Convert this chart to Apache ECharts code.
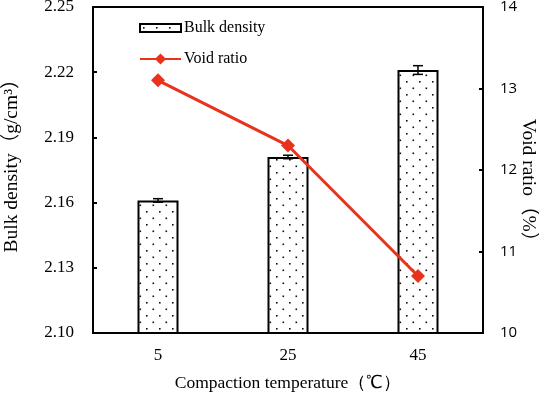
<!DOCTYPE html>
<html>
<head>
<meta charset="utf-8">
<script src="https://cdn.jsdelivr.net/npm/echarts@6/dist/echarts.min.js"></script>
<style>
  html, body { margin: 0; padding: 0; background: #fff; }
  #chart { width: 539px; height: 395px; }
</style>
</head>
<body>
<div id="chart"></div>
<script>
// data
const temps = ['5', '25', '45']
const bulkDensity = [2.161, 2.181, 2.221]
const bulkError = [0.0008, 0.0008, 0.002]
const voidRatio = [13.1, 12.3, 10.7]

const serif = 'Liberation Serif'
const serifCjk = '"Liberation Serif", "Noto Sans CJK SC"'

// dotted fill for the bars
const makeDots = () => {
  const c = document.createElement('canvas')
  c.width = 13
  c.height = 13
  const ctx = c.getContext('2d')
  ctx.fillStyle = '#fff'
  ctx.fillRect(0, 0, 13, 13)
  ctx.fillStyle = '#111'
  ctx.fillRect(3, 3, 1.6, 1.6)
  ctx.fillRect(9.5, 9.5, 1.6, 1.6)
  return c
}
const dots = makeDots()

const chart = echarts.init(document.getElementById('chart'))

const legendText = { fontFamily: serif, fontSize: 16, color: '#000', padding: [0, 0, 0, -2] }

const option = {
  animation: false,
  grid: {
    left: 93,
    right: 56,
    top: 7,
    bottom: 62,
    containLabel: false,
    outerBoundsMode: 'none',
    show: true,
    borderColor: '#000',
    borderWidth: 2,
    backgroundColor: 'transparent'
  },
  legend: [
    {
      left: 134,
      top: 15,
      icon: 'rect',
      itemWidth: 41,
      itemHeight: 8,
      data: ['Bulk density'],
      textStyle: legendText
    },
    {
      left: 134,
      top: 46,
      itemWidth: 41,
      itemHeight: 14,
      data: ['Void ratio'],
      textStyle: legendText
    }
  ],
  xAxis: {
    type: 'category',
    data: temps,
    name: 'Compaction temperature（℃）',
    nameLocation: 'middle',
    nameGap: 41,
    nameMoveOverlap: false,
    nameTextStyle: { fontFamily: serif, fontSize: 17.5, color: '#000' },
    axisLine: { lineStyle: { color: '#000', width: 2 } },
    axisTick: { inside: true, length: 4, lineStyle: { color: '#000', width: 2 } },
    axisLabel: { fontFamily: serif, fontSize: 17, color: '#000', margin: 14 }
  },
  yAxis: [
    {
      type: 'value',
      min: 2.10,
      max: 2.25,
      interval: 0.03,
      name: 'Bulk density（g/cm³）',
      nameLocation: 'middle',
      nameGap: 71,
      nameMoveOverlap: false,
      nameTextStyle: { fontFamily: serifCjk, fontSize: 19.5, color: '#000', padding: [0, 0, 0, 18] },
      axisLine: { show: true, lineStyle: { color: '#000', width: 2 } },
      axisTick: { show: true, inside: true, length: 4, lineStyle: { color: '#000', width: 2 } },
      axisLabel: {
        fontFamily: serif, fontSize: 17, color: '#000', margin: 19,
        formatter: v => v.toFixed(2)
      },
      splitLine: { show: false }
    },
    {
      type: 'value',
      min: 10,
      max: 14,
      interval: 1,
      position: 'right',
      name: 'Void ratio（%）',
      nameLocation: 'middle',
      nameRotate: -90,
      nameGap: 35,
      nameMoveOverlap: false,
      nameTextStyle: { fontFamily: serifCjk, fontSize: 19.5, color: '#000', padding: [0, 0, 0, 30] },
      axisLine: { show: true, lineStyle: { color: '#000', width: 2 } },
      axisTick: { show: true, inside: true, length: 4, lineStyle: { color: '#000', width: 2 } },
      axisLabel: { fontFamily: 'Open Sans', fontSize: 15, color: '#000', margin: 17 },
      splitLine: { show: false }
    }
  ],
  series: [
    {
      name: 'Bulk density',
      type: 'bar',
      barWidth: 41,
      yAxisIndex: 0,
      itemStyle: {
        color: { image: dots, repeat: 'repeat' },
        borderColor: '#000',
        borderWidth: 2
      },
      data: bulkDensity
    },
    {
      name: 'errors',
      type: 'custom',
      yAxisIndex: 0,
      z: 5,
      data: bulkDensity.map((v, i) => [i, v - bulkError[i], v + bulkError[i]]),
      renderItem: (params, api) => {
        const lo = api.coord([api.value(0), api.value(1)])
        const hi = api.coord([api.value(0), api.value(2)])
        const hw = 5
        const st = { stroke: '#000', lineWidth: 1.5 }
        return {
          type: 'group',
          children: [
            { type: 'line', shape: { x1: lo[0], y1: lo[1], x2: hi[0], y2: hi[1] }, style: st },
            { type: 'line', shape: { x1: lo[0] - hw, y1: lo[1], x2: lo[0] + hw, y2: lo[1] }, style: st },
            { type: 'line', shape: { x1: hi[0] - hw, y1: hi[1], x2: hi[0] + hw, y2: hi[1] }, style: st }
          ]
        }
      }
    },
    {
      name: 'Void ratio',
      type: 'line',
      yAxisIndex: 1,
      z: 10,
      symbol: 'diamond',
      symbolSize: 14,
      color: '#e8321c',
      lineStyle: { width: 3, color: '#e8321c' },
      itemStyle: { color: '#e8321c' },
      data: voidRatio
    }
  ]
}

chart.setOption(option)
</script>
</body>
</html>
